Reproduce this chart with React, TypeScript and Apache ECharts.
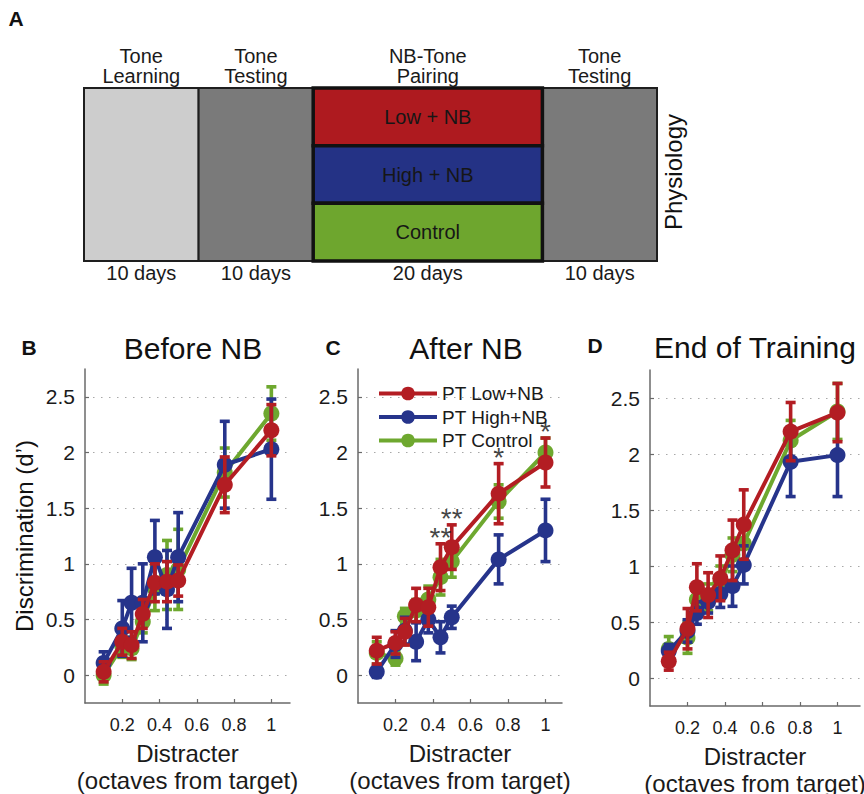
import React, { useEffect, useRef } from 'react';
import * as echarts from 'echarts';

const FONT = '"Liberation Sans", Arial, Helvetica, sans-serif';
const RED = '#B31D23';
const BLUE = '#26348B';
const GREEN = '#6EA82F';

// ---- Panel A (timeline) ----
const phaseLabels = ['Tone\nLearning', 'Tone\nTesting', 'NB-Tone\nPairing', 'Tone\nTesting'];
const phaseDays = [10, 10, 20, 10];
const pairingGroups = ['Low + NB', 'High + NB', 'Control'];

// ---- Panels B-D ----
const distracter = [0.1, 0.2, 0.25, 0.31, 0.375, 0.44, 0.5, 0.75, 1];
const seriesNames = ['PT Low+NB', 'PT High+NB', 'PT Control'];
const xTicks = [0.2, 0.4, 0.6, 0.8, 1];
const yTicks = [0, 0.5, 1, 1.5, 2, 2.5];
const panelTitles = ['Before NB', 'After NB', 'End of Training'];
const panelLetters = ['B', 'C', 'D'];

// Before NB
const lowB = [0.03, 0.3, 0.27, 0.55, 0.83, 0.84, 0.85, 1.71, 2.2];
const lowBErr = [0.09, 0.12, 0.12, 0.13, 0.17, 0.18, 0.14, 0.25, 0.23];
const highB = [0.11, 0.42, 0.65, 0.65, 1.06, 0.77, 1.06, 1.89, 2.03];
const highBErr = [0.1, 0.25, 0.31, 0.35, 0.33, 0.35, 0.4, 0.39, 0.45];
const ctrlB = [0.0, 0.26, 0.24, 0.48, 0.78, 0.9, 0.95, 1.82, 2.35];
const ctrlBErr = [0.08, 0.1, 0.1, 0.1, 0.2, 0.31, 0.36, 0.22, 0.24];

// After NB
const lowC = [0.22, 0.29, 0.39, 0.63, 0.61, 0.97, 1.15, 1.63, 1.91];
const lowCErr = [0.12, 0.1, 0.12, 0.15, 0.17, 0.21, 0.2, 0.27, 0.22];
const highC = [0.03, 0.28, 0.4, 0.3, 0.5, 0.34, 0.52, 1.04, 1.3];
const highCErr = [0.05, 0.12, 0.12, 0.17, 0.12, 0.14, 0.1, 0.22, 0.28];
const ctrlC = [0.2, 0.15, 0.53, 0.58, 0.68, 0.88, 1.02, 1.56, 2.0];
const ctrlCErr = [0.1, 0.06, 0.07, 0.1, 0.12, 0.16, 0.14, 0.15, 0.13];

// End of Training
const lowD = [0.15, 0.44, 0.81, 0.74, 0.89, 1.14, 1.37, 2.2, 2.37];
const lowDErr = [0.08, 0.18, 0.21, 0.2, 0.2, 0.27, 0.31, 0.26, 0.26];
const highD = [0.24, 0.42, 0.58, 0.68, 0.75, 0.82, 1.01, 1.93, 1.99];
const highDErr = [0.06, 0.1, 0.1, 0.1, 0.12, 0.18, 0.17, 0.31, 0.37];
const ctrlD = [0.26, 0.36, 0.7, 0.72, 0.85, 1.1, 1.2, 2.12, 2.38];
const ctrlDErr = [0.11, 0.14, 0.12, 0.12, 0.15, 0.15, 0.15, 0.18, 0.25];

// significance marks in "After NB" (index into distracter)
const starIdx = [5, 6, 7, 8];
const starText = ['**', '**', '*', '*'];

export default function App() {
  const ref = useRef<HTMLDivElement>(null);

  useEffect(() => {
    if (!ref.current) return;
    const chart = echarts.init(ref.current, undefined, { renderer: 'svg' });

    const panels = [
      { low: lowB, lowE: lowBErr, high: highB, highE: highBErr, ctrl: ctrlB, ctrlE: ctrlBErr },
      { low: lowC, lowE: lowCErr, high: highC, highE: highCErr, ctrl: ctrlC, ctrlE: ctrlCErr },
      { low: lowD, lowE: lowDErr, high: highD, highE: highDErr, ctrl: ctrlD, ctrlE: ctrlDErr },
    ];
    const grids: any[] = [
      { left: 84, top: 88, width: 573, height: 173 },
      { left: 85, top: 369, width: 205, height: 334 },
      { left: 358, top: 369, width: 204, height: 334 },
      { left: 650, top: 370, width: 210, height: 336 },
    ].map((g) => ({ ...g, containLabel: false, outerBoundsMode: 'none' }));
    const xMax = [1.1, 1.088, 1.12];

    // Panel A axes
    const totalDays = phaseDays.reduce((a, b) => a + b, 0);
    const xAxes: any[] = [{ type: 'value', gridIndex: 0, min: 0, max: totalDays, show: false }];
    const yAxes: any[] = [{ type: 'value', gridIndex: 0, min: 0, max: 3, show: false }];

    const axisColor = '#6a6a6a';
    for (let p = 0; p < 3; p++) {
      xAxes.push({
        type: 'value',
        gridIndex: p + 1,
        min: 0,
        max: xMax[p],
        axisLine: { show: true, onZero: false, lineStyle: { color: axisColor, width: 1.5 } },
        axisTick: { show: true, inside: true, length: 4, customValues: xTicks, lineStyle: { color: axisColor, width: 1.2 } },
        axisLabel: {
          customValues: xTicks,
          fontSize: 18,
          color: '#1a1a1a',
          margin: 13,
          fontFamily: FONT,
          formatter: (v: number) => String(Math.round(v * 10) / 10),
        },
        splitLine: { show: false },
        name: 'Distracter\n(octaves from target)',
        nameLocation: 'middle',
        nameGap: 37,
        nameTextStyle: { fontSize: 24, lineHeight: 27, color: '#1a1a1a', fontFamily: FONT },
      });
      yAxes.push({
        type: 'value',
        gridIndex: p + 1,
        min: -0.25,
        max: 2.75,
        axisLine: { show: true, onZero: false, lineStyle: { color: axisColor, width: 1.5 } },
        axisTick: { show: true, inside: true, length: 4, customValues: yTicks, lineStyle: { color: axisColor, width: 1.2 } },
        axisLabel: {
          customValues: yTicks,
          fontSize: 21,
          color: '#1a1a1a',
          margin: 10,
          fontFamily: FONT,
          formatter: (v: number) => String(v),
        },
        splitLine: { show: true, lineStyle: { color: '#a8a8a8', type: [1.5, 6.5], width: 1.2 } },
      });
    }

    // Panel A custom series
    const starts: number[] = [];
    phaseDays.reduce((acc, d) => {
      starts.push(acc);
      return acc + d;
    }, 0);
    const phaseFill = ['#CDCDCD', '#7A7A7A', '', '#7A7A7A'];
    const groupFill = ['#AE1A1F', '#243285', '#6EA62E'];
    const phaseData = [0, 1, 3, 2].map((i) => [starts[i], starts[i] + phaseDays[i], i]);

    const series: any[] = [
      {
        type: 'custom',
        xAxisIndex: 0,
        yAxisIndex: 0,
        data: phaseData,
        silent: true,
        renderItem: (params: any, api: any) => {
          const s = api.value(0);
          const e = api.value(1);
          const idx = api.value(2);
          const [x0, yTop] = api.coord([s, 3]);
          const [x1, yBot] = api.coord([e, 0]);
          const children: any[] = [];
          if (idx === 2) {
            for (let r = 0; r < 3; r++) {
              const ya = api.coord([s, 3 - r])[1];
              const yb = api.coord([s, 2 - r])[1];
              children.push({
                type: 'rect',
                shape: { x: x0, y: ya, width: x1 - x0, height: yb - ya },
                style: { fill: groupFill[r], stroke: '#111', lineWidth: 3.5 },
              });
              children.push({
                type: 'text',
                style: {
                  text: pairingGroups[r],
                  x: (x0 + x1) / 2,
                  y: (ya + yb) / 2,
                  align: 'center',
                  verticalAlign: 'middle',
                  fontSize: 20,
                  fontFamily: FONT,
                  fill: '#161616',
                },
              });
            }
          } else {
            children.push({
              type: 'rect',
              shape: { x: x0, y: yTop, width: x1 - x0, height: yBot - yTop },
              style: { fill: phaseFill[idx], stroke: '#1e1e1e', lineWidth: 2 },
            });
          }
          children.push({
            type: 'text',
            style: {
              text: phaseLabels[idx],
              x: (x0 + x1) / 2,
              y: yTop - 2,
              align: 'center',
              verticalAlign: 'bottom',
              fontSize: 20,
              lineHeight: 20,
              fontFamily: FONT,
              fill: '#1a1a1a',
            },
          });
          children.push({
            type: 'text',
            style: {
              text: phaseDays[idx] + ' days',
              x: (x0 + x1) / 2,
              y: yBot + 12,
              align: 'center',
              verticalAlign: 'middle',
              fontSize: 20,
              fontFamily: FONT,
              fill: '#1a1a1a',
            },
          });
          return { type: 'group', children };
        },
      },
    ];

    const colors = [RED, BLUE, GREEN];
    const order = [2, 1, 0]; // control, high, low (low on top)
    for (let p = 0; p < 3; p++) {
      const d = panels[p];
      const vals = [d.low, d.high, d.ctrl];
      const errs = [d.lowE, d.highE, d.ctrlE];
      order.forEach((g, k) => {
        const color = colors[g];
        series.push({
          type: 'custom',
          name: 'err-' + g,
          xAxisIndex: p + 1,
          yAxisIndex: p + 1,
          z: 2 + k * 2,
          silent: true,
          data: distracter.map((x, i) => [x, vals[g][i] - errs[g][i], vals[g][i] + errs[g][i]]),
          encode: { x: 0, y: [1, 2] },
          renderItem: (params: any, api: any) => {
            const x = api.value(0);
            const top = api.coord([x, api.value(2)]);
            const bot = api.coord([x, api.value(1)]);
            const hw = 5;
            const style = { stroke: color, lineWidth: 3.6 };
            return {
              type: 'group',
              children: [
                { type: 'line', shape: { x1: top[0], y1: top[1], x2: bot[0], y2: bot[1] }, style },
                { type: 'line', shape: { x1: top[0] - hw, y1: top[1], x2: top[0] + hw, y2: top[1] }, style },
                { type: 'line', shape: { x1: bot[0] - hw, y1: bot[1], x2: bot[0] + hw, y2: bot[1] }, style },
              ],
            };
          },
        });
        series.push({
          type: 'line',
          name: seriesNames[g],
          xAxisIndex: p + 1,
          yAxisIndex: p + 1,
          z: 3 + k * 2,
          data: distracter.map((x, i) => [x, vals[g][i]]),
          symbol: 'circle',
          symbolSize: 16,
          showAllSymbol: true,
          lineStyle: { color, width: 4 },
          itemStyle: { color },
          emphasis: { disabled: true },
        });
      });
    }

    // significance stars (After NB)
    series.push({
      type: 'scatter',
      xAxisIndex: 2,
      yAxisIndex: 2,
      z: 20,
      symbol: 'circle',
      symbolSize: 1,
      itemStyle: { color: 'rgba(0,0,0,0)' },
      silent: true,
      data: starIdx.map((i, k) => ({ value: [distracter[i], lowC[i] + lowCErr[i]], name: starText[k] })),
      label: {
        show: true,
        position: 'top',
        distance: 0,
        offset: [0, 8],
        formatter: (pr: any) => pr.name,
        fontSize: 28,
        fontFamily: FONT,
        color: '#111',
      },
    });

    const txt = (text: string, x: number, y: number, size: number, extra: any = {}) => ({
      type: 'text',
      x,
      y,
      rotation: extra.rotation || 0,
      silent: true,
      style: {
        text,
        align: 'center',
        verticalAlign: 'middle',
        fontSize: size,
        fontFamily: FONT,
        fontWeight: extra.bold ? 'bold' : 'normal',
        fill: '#111',
      },
    });

    const graphics: any[] = [
      txt('A', 16, 18, 21, { bold: true }),
      txt('Physiology', 673, 172, 24, { rotation: Math.PI / 2 }),
      txt('Discrimination (d\u2019)', 24, 536, 24, { rotation: Math.PI / 2 }),
      txt(panelLetters[0], 29, 347, 21, { bold: true }),
      txt(panelLetters[1], 333, 347, 21, { bold: true }),
      txt(panelLetters[2], 595, 345, 21, { bold: true }),
      txt(panelTitles[0], 193, 348, 30),
      txt(panelTitles[1], 466, 348, 30),
      txt(panelTitles[2], 755, 347, 30),
    ];

    chart.setOption({
      animation: false,
      backgroundColor: '#ffffff',
      grid: grids,
      xAxis: xAxes,
      yAxis: yAxes,
      legend: {
        data: seriesNames,
        orient: 'vertical',
        left: 372,
        top: 379,
        itemWidth: 58,
        itemHeight: 17,
        itemGap: 4.5,
        selectedMode: false,
        lineStyle: { width: 4 },
        textStyle: { fontSize: 19, color: '#1a1a1a', fontFamily: FONT },
      },
      graphic: graphics,
      series,
    });

    return () => chart.dispose();
  }, []);

  return (
    <div
      ref={ref}
      style={{ position: 'absolute', left: 0, top: 0, width: 864, height: 794, background: '#fff' }}
    />
  );
}
